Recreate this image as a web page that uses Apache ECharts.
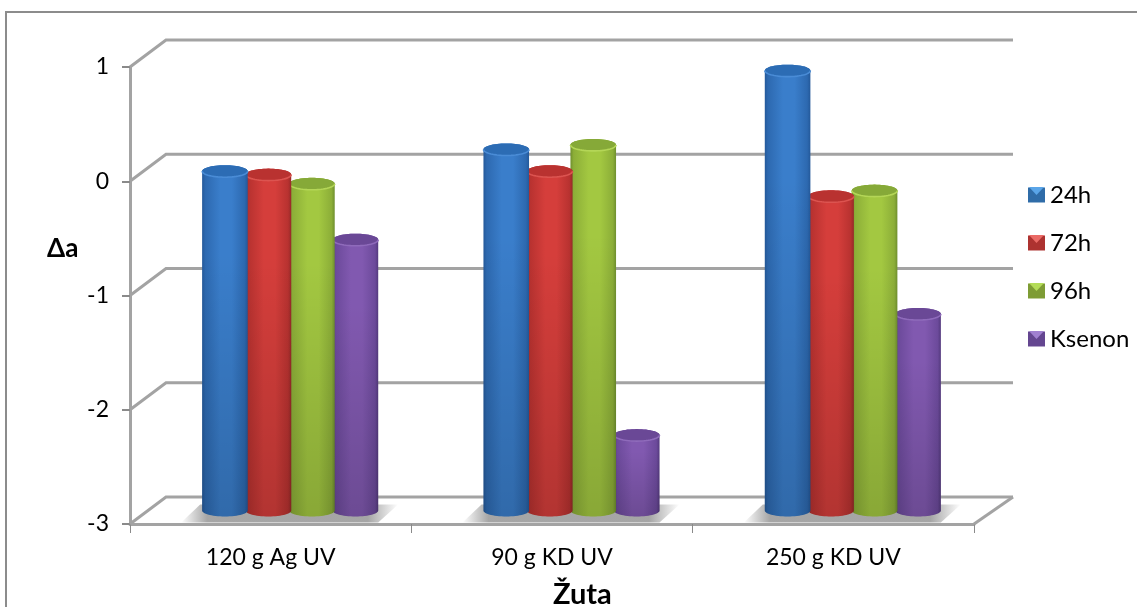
<!DOCTYPE html>
<html><head><meta charset="utf-8">
<style>html,body{margin:0;padding:0;background:#fff}#c{width:1137px;height:607px}</style>
<script src="https://cdn.jsdelivr.net/npm/echarts@6/dist/echarts.min.js"></script>
</head><body><div id="c"></div>
<script>
const categories = ['120 g Ag UV', '90 g KD UV', '250 g KD UV'];
const seriesNames = ['24h', '72h', '96h', 'Ksenon'];
const v24h = [-0.03, 0.16, 0.85];
const v72h = [-0.06, -0.03, -0.25];
const v96h = [-0.14, 0.20, -0.20];
const vKsenon = [-0.63, -2.34, -1.28];
const yTicks = [-3, -2, -1, 0, 1];
const palette = [
  {edge:'#24599a', side:'#2d69b0', mid:'#3a7ecb', top:'#2c6cb4', rim:'#4a8cd6', icon:'#2f6ca8', tri:'#5aa5e8'},
  {edge:'#962a28', side:'#b83230', mid:'#d53e3b', top:'#b93230', rim:'#dc5450', icon:'#ad3230', tri:'#ea6a66'},
  {edge:'#6f8f2e', side:'#8cae38', mid:'#a3c841', top:'#86a938', rim:'#b4d657', icon:'#7e9c35', tri:'#b4dc58'},
  {edge:'#543a7e', side:'#6c4a9b', mid:'#8159b0', top:'#6a4896', rim:'#8f6bbb', icon:'#644690', tri:'#a080d0'}
];
const allValues = [v24h, v72h, v96h, vKsenon];
const DX = 36, DX_RIGHT = 39, DY = 27, STEP = 43.5, RX = 22.8, RY = 6, BAR_SHIFT = 19.5;
const GRID = '#a3a3a3';

function arc(cx, cy, from, to, n) {
  const p = [];
  for (let i = 0; i <= n; i++) {
    const a = from + (to - from) * i / n;
    p.push([cx + RX * Math.cos(a), cy + RY * Math.sin(a)]);
  }
  return p;
}
function grad(x0, y0, x1, y1, stops) {
  return {type:'linear', x:x0, y:y0, x2:x1, y2:y1, global:false,
    colorStops: stops.map(s => ({offset:s[0], color:s[1]}))};
}
function barRender(si) {
  return function (params, api) {
    const c = palette[si];
    const idx = api.value(0), v = api.value(1);
    const cx = api.coord([idx, v])[0] + BAR_SHIFT + (si - 1.5) * STEP;
    const topY = api.coord([idx, v])[1] - DY / 2;
    const baseY = api.coord([idx, -3])[1] - DY / 2;
    const bottomArc = arc(cx, baseY, Math.PI, 0, 30);
    const topBack = arc(cx, topY, 0, -Math.PI, 30);
    const body = topBack.concat(bottomArc);
    const frontTop = arc(cx, topY, 0, Math.PI, 30);
    const ellipse = arc(cx, topY, 0, Math.PI * 2, 60);
    return {type:'group', children:[
      {type:'polygon', shape:{points:body}, style:{fill:grad(0,0,1,0,[[0,c.edge],[0.07,c.side],[0.4,c.mid],[0.65,c.mid],[0.93,c.side],[1,c.edge]])}},
      {type:'polygon', shape:{points:body}, style:{fill:grad(0,0,0,1,[[0,'rgba(0,0,0,0)'],[0.25,'rgba(0,0,0,0)'],[1,'rgba(0,0,0,0.16)']])}},
      {type:'polygon', shape:{points:ellipse}, style:{fill:c.top}},
      {type:'polyline', shape:{points:frontTop}, style:{fill:'none', stroke:c.rim, lineWidth:1.6}}
    ]};
  };
}
function shadowRender(params, api) {
  const idx = api.value(0);
  const cx = api.coord([idx, -3])[0] + BAR_SHIFT;
  const y = api.coord([idx, -3])[1] - DY / 2;
  return {type:'polygon', shape:{points:[[cx-109,y+12],[cx-90,y-6],[cx+108,y-6],[cx+88,y+12]]},
    style:{fill:grad(0,0,1,0,[[0,'rgba(150,150,150,0)'],[0.12,'rgba(150,150,150,0.85)'],[0.86,'rgba(150,150,150,0.85)'],[1,'rgba(150,150,150,0)']])}};
}
function wallRender(params, api) {
  const sys = params.coordSys;
  const v = api.value(0);
  const y = api.coord([0, v])[1];
  const x0 = sys.x, x1 = sys.x + sys.width;
  const kids = [{type:'polyline', shape:{points:[[x0,y],[x0+DX,y-DY],[x1+DX_RIGHT,y-DY]]},
    style:{fill:'none', stroke:GRID, lineWidth:3, lineJoin:'miter'}}];
  if (v === yTicks[0]) {
    kids.push({type:'polyline', shape:{points:[[x1,y],[x1+DX_RIGHT,y-DY]]},
      style:{fill:'none', stroke:GRID, lineWidth:3}});
  }
  return {type:'group', children:kids};
}
const font = 'Lato, Carlito, sans-serif';
const barSeries = seriesNames.map((name, si) => ({
  name, type:'custom', z:10 - si, clip:false,
  itemStyle:{color:palette[si].icon},
  encode:{x:0, y:1},
  data: allValues[si].map((v, i) => [i, v]),
  renderItem: barRender(si)
}));
const chart = echarts.init(document.getElementById('c'), null, {renderer:'canvas'});
chart.setOption({
  animation:false,
  backgroundColor:'#fff',
  textStyle:{fontFamily:font},
  grid:{left:130, right:163, top:67, bottom:83, outerBoundsMode:'none'},
  title:[
    {text:'Δa', left:47, top:236, padding:0,
     textStyle:{fontFamily:font, fontSize:26, fontWeight:'bold', color:'#000'}},
    {text:'Žuta', left:553, top:580, padding:0,
     textStyle:{fontFamily:font, fontSize:29, fontWeight:'bold', color:'#000'}}
  ],
  legend:{
    orient:'vertical', left:1023, top:178, itemWidth:17, itemHeight:15, itemGap:24,
    icon:'rect', selectedMode:false,
    data: seriesNames,
    textStyle:{fontFamily:font, fontSize:24, color:'#000', padding:[0,0,6,0]}
  },
  xAxis:{
    type:'category', data:categories, boundaryGap:true,
    axisLine:{show:true, onZero:false, lineStyle:{color:GRID, width:3}},
    axisTick:{show:true, length:9, lineStyle:{color:'#8a8a8a', width:1}, alignWithLabel:false},
    axisLabel:{color:'#000', fontFamily:font, fontSize:23, margin:22}
  },
  yAxis:{
    type:'value', min:-3, max:1, interval:1,
    splitLine:{show:false},
    axisLine:{show:true, onZero:false, lineStyle:{color:GRID, width:3}},
    axisTick:{show:true, length:8, lineStyle:{color:'#8a8a8a', width:2}},
    axisLabel:{color:'#000', fontFamily:font, fontSize:23, margin:21}
  },
  graphic:[
    {type:'polyline', silent:true, z:-1, shape:{points:[[6,607],[6,12],[1137,12]]}, style:{fill:'none', stroke:'#8c8c8c', lineWidth:2}}
  ].concat(seriesNames.map((n, i) => {
    const x = 1028, y = 187 + i * 48;
    return {type:'polygon', silent:true, z:20, shape:{points:[[x+1,y],[x+16,y],[x+8.5,y+8]]}, style:{fill:palette[i].tri}};
  })),
  series:[
    {name:'walls', type:'custom', z:1, clip:false, data:yTicks.map(v => [v]), encode:{y:0}, renderItem:wallRender},
    {name:'shadow', type:'custom', z:2, clip:false, data:categories.map((c, i) => [i]), encode:{x:0}, renderItem:shadowRender}
  ].concat(barSeries)
});
</script></body></html>
